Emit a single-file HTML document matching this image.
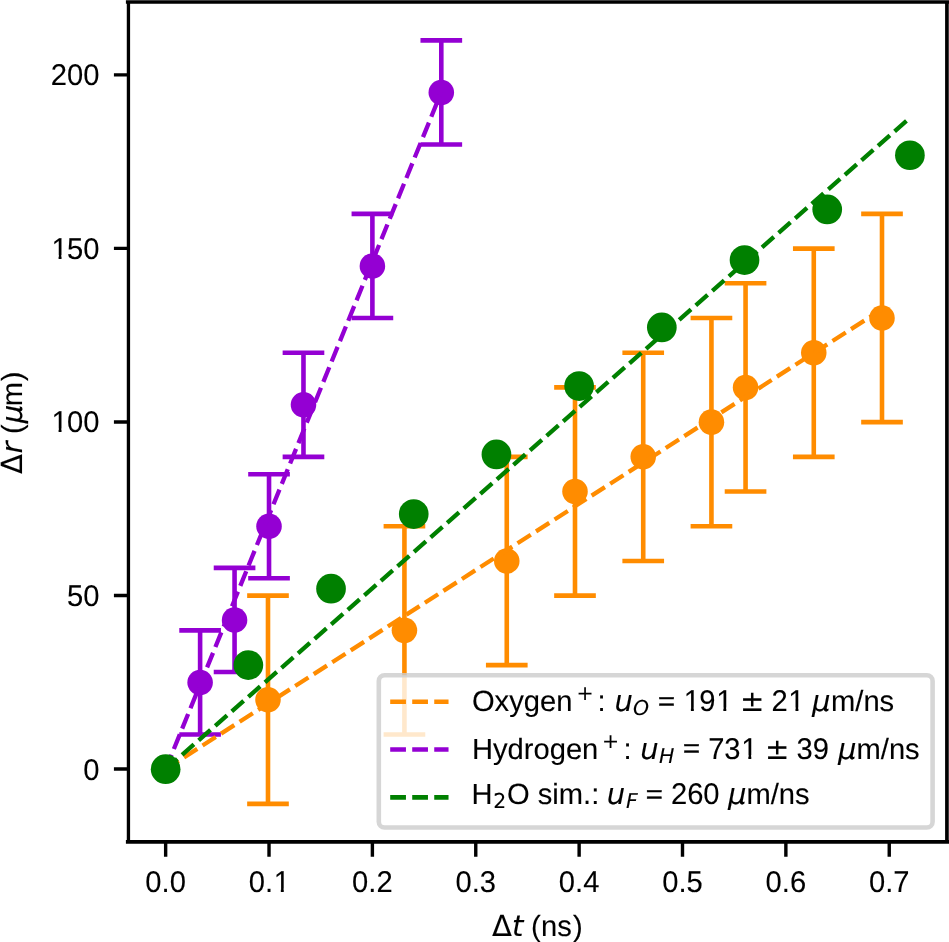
<!DOCTYPE html>
<html lang="en"><head><meta charset="utf-8"><title>Expansion velocity plot</title>
<style>
html,body{margin:0;padding:0;background:#fff;}
body{width:949px;height:942px;overflow:hidden;}
svg{display:block;}
text{font-family:"Liberation Sans",Arial,Helvetica,sans-serif;font-size:29.17px;fill:#000;stroke:#000;stroke-width:0.1px;text-rendering:geometricPrecision;}
.i{font-style:italic;}
.eq{stroke-width:0.5px;}
.s{font-size:20.42px;}
.dv{font-family:"DejaVu Sans","Liberation Sans",sans-serif;}
</style></head><body>
<svg width="949" height="942" viewBox="0 0 949 942">
<rect width="949" height="942" fill="#fff"/>
<defs><clipPath id="k191"><path d="M-2 -27H51.67V-3.7H-2ZM7.75 -4H10.7V1.5H7.75ZM16.62 -4H32.05V1.5H16.62ZM40.2 -4H43.15V1.5H40.2Z"/></clipPath><clipPath id="k21"><path d="M-2 -27H35.45V-3.7H-2ZM0.4 -4H15.82V1.5H0.4ZM23.97 -4H26.92V1.5H23.97Z"/></clipPath><clipPath id="k731"><path d="M-2 -27H51.67V-3.7H-2ZM0.4 -4H15.82V1.5H0.4ZM16.62 -4H32.05V1.5H16.62ZM40.2 -4H43.15V1.5H40.2Z"/></clipPath><clipPath id="k0_1"><path d="M-2 -27H43.55V-3.7H-2ZM0.4 -4H15.82V1.5H0.4ZM16.62 -4H23.93V1.5H16.62ZM32.08 -4H35.03V1.5H32.08Z"/></clipPath><clipPath id="k100"><path d="M-2 -27H51.67V-3.7H-2ZM7.75 -4H10.7V1.5H7.75ZM16.62 -4H32.05V1.5H16.62ZM32.85 -4H48.27V1.5H32.85Z"/></clipPath><clipPath id="k150"><path d="M-2 -27H51.67V-3.7H-2ZM7.75 -4H10.7V1.5H7.75ZM16.62 -4H32.05V1.5H16.62ZM32.85 -4H48.27V1.5H32.85Z"/></clipPath><clipPath id="ax"><rect x="128.4" y="1.9" width="818.4" height="839.9"/></clipPath></defs>
<g clip-path="url(#ax)">
<g stroke="#ff8c00" stroke-width="4.6" fill="none">
<path d="M267.99 803.91V595.67M247.15 803.91h41.67M247.15 595.67h41.67M404.43 734.49V526.25M383.6 734.49h41.67M383.6 526.25h41.67M506.77 665.08V456.84M485.94 665.08h41.67M485.94 456.84h41.67M575 595.67V387.42M554.16 595.67h41.67M554.16 387.42h41.67M643.22 560.96V352.72M622.39 560.96h41.67M622.39 352.72h41.67M711.44 526.25V318.01M690.61 526.25h41.67M690.61 318.01h41.67M745.56 491.54V283.3M724.72 491.54h41.67M724.72 283.3h41.67M813.78 456.84V248.6M792.95 456.84h41.67M792.95 248.6h41.67M882 422.13V213.89M861.17 422.13h41.67M861.17 213.89h41.67"/>
</g>
<g fill="#ff8c00">
<circle cx="267.99" cy="699.79" r="12.77"/>
<circle cx="404.43" cy="630.37" r="12.77"/>
<circle cx="506.77" cy="560.96" r="12.77"/>
<circle cx="575" cy="491.54" r="12.77"/>
<circle cx="643.22" cy="456.84" r="12.77"/>
<circle cx="711.44" cy="422.13" r="12.77"/>
<circle cx="745.56" cy="387.42" r="12.77"/>
<circle cx="813.78" cy="352.72" r="12.77"/>
<circle cx="882" cy="318.01" r="12.77"/>
</g>
<g stroke="#9400d3" stroke-width="4.6" fill="none">
<path d="M200.11 734.49V630.37M179.27 734.49h41.67M179.27 630.37h41.67M234.56 672.02V567.9M213.73 672.02h41.67M213.73 567.9h41.67M269.02 578.31V474.19M248.19 578.31h41.67M248.19 474.19h41.67M303.48 456.84V352.72M282.64 456.84h41.67M282.64 352.72h41.67M372.39 318.01V213.89M351.56 318.01h41.67M351.56 213.89h41.67M441.3 144.47V40.35M420.47 144.47h41.67M420.47 40.35h41.67"/>
</g>
<g fill="#9400d3">
<circle cx="200.11" cy="682.43" r="12.77"/>
<circle cx="234.56" cy="619.96" r="12.77"/>
<circle cx="269.02" cy="526.25" r="12.77"/>
<circle cx="303.48" cy="404.78" r="12.77"/>
<circle cx="372.39" cy="265.95" r="12.77"/>
<circle cx="441.3" cy="92.41" r="12.77"/>
</g>
<line x1="165.65" y1="769.2" x2="882" y2="309.21" stroke="#ff8c00" stroke-width="4.3" stroke-dasharray="15.75 6.27" stroke-dashoffset="0.2"/>
<line x1="165.65" y1="769.2" x2="441.3" y2="92.18" stroke="#9400d3" stroke-width="4.3" stroke-dasharray="15.75 6.27" stroke-dashoffset="0.2"/>
<line x1="165.65" y1="769.2" x2="909.91" y2="117.86" stroke="#008000" stroke-width="4.3" stroke-dasharray="15.75 6.27" stroke-dashoffset="0.2"/>
<g fill="#008000">
<circle cx="165.65" cy="769.2" r="14.85"/>
<circle cx="248.35" cy="665.08" r="14.85"/>
<circle cx="331.04" cy="588.72" r="14.85"/>
<circle cx="413.74" cy="514.1" r="14.85"/>
<circle cx="496.43" cy="454.41" r="14.85"/>
<circle cx="579.13" cy="386.03" r="14.85"/>
<circle cx="661.83" cy="327.38" r="14.85"/>
<circle cx="744.52" cy="260.05" r="14.85"/>
<circle cx="827.22" cy="209.38" r="14.85"/>
<circle cx="909.91" cy="155.23" r="14.85"/>
</g>
</g>
<rect x="378.8" y="675.3" width="553.8" height="152.2" rx="5.8" ry="5.8" fill="#fff" fill-opacity="0.8" stroke="#ccc" stroke-opacity="0.8" stroke-width="4.6"/>
<line x1="390.2" y1="701.7" x2="448.53" y2="701.7" stroke="#ff8c00" stroke-width="4.6" stroke-dasharray="15.75 6.27"/>
<line x1="390.2" y1="749.5" x2="448.53" y2="749.5" stroke="#9400d3" stroke-width="4.6" stroke-dasharray="15.75 6.27"/>
<line x1="390.2" y1="797.4" x2="448.53" y2="797.4" stroke="#008000" stroke-width="4.6" stroke-dasharray="15.75 6.27"/>
<text x="471.9" y="711.2">Oxygen</text>
<text class="s dv" x="576.6" y="700.2">+</text>
<text x="597.5" y="711.2">:</text>
<text class="i dv" x="614.4" y="711.2">u</text>
<text class="i s dv" x="633" y="715.4">O</text>
<text class="eq" transform="translate(658 709.7) scale(1 0.9)">=</text>
<text clip-path="url(#k191)" transform="translate(683.14 711.2) scale(1 1.03)" x="0.6 16.22 33.05">191</text>
<text class="dv" x="740" y="711.2">±</text>
<text clip-path="url(#k21)" transform="translate(771.5 711.2) scale(1 1.03)" x="0 16.82">21</text>
<text class="i dv" x="812" y="711.2">μ</text>
<text x="831" y="711.2">m/ns</text>
<text x="471.9" y="758.8">Hydrogen</text>
<text class="s dv" x="602.1" y="747.8">+</text>
<text x="623.5" y="758.8">:</text>
<text class="i dv" x="640.3" y="758.8">u</text>
<text class="i s dv" x="659" y="763">H</text>
<text class="eq" transform="translate(683 757.3) scale(1 0.9)">=</text>
<text clip-path="url(#k731)" transform="translate(708.14 758.8) scale(1 1.03)" x="0 16.22 33.05">731</text>
<text class="dv" x="765" y="758.8">±</text>
<text transform="translate(796.5 758.8) scale(1 1.03)">39</text>
<text class="i dv" x="838" y="758.8">μ</text>
<text x="856.5" y="758.8">m/ns</text>
<text x="471.6" y="804">H</text>
<text class="s dv" x="493.3" y="807.7">2</text>
<text x="507" y="804">O sim.:</text>
<text class="i dv" x="606.8" y="804">u</text>
<text class="i s dv" x="625.9" y="807.6">F</text>
<text class="eq" transform="translate(645.8 802.5) scale(1 0.9)">=</text>
<text transform="translate(670.94 804) scale(1 1.03)">260</text>
<text class="i dv" x="728" y="804">μ</text>
<text x="746.4" y="804">m/ns</text>
<path fill="#000" d="M126.78 0.4H130.1V843.7H126.78ZM945.1 0.4H948.75V843.7H945.1ZM125.9 0.33H949V3.85H125.9ZM125.9 840.05H949V843.75H125.9Z"/>
<path d="M165.65 841.8v14.83M269.02 841.8v14.83M372.39 841.8v14.83M475.76 841.8v14.83M579.13 841.8v14.83M682.5 841.8v14.83M785.87 841.8v14.83M889.24 841.8v14.83M128.4 769h-14.48M128.4 595.47h-14.48M128.4 421.93h-14.48M128.4 248.4h-14.48M128.4 74.86h-14.48" stroke="#000" stroke-width="3.4" fill="none"/>
<text transform="translate(145.37 892.2) scale(1 1.03)">0.0</text>
<text clip-path="url(#k0_1)" transform="translate(248.74 892.2) scale(1 1.03)" x="0 16.22 24.93">0.1</text>
<text transform="translate(352.11 892.2) scale(1 1.03)">0.2</text>
<text transform="translate(455.48 892.2) scale(1 1.03)">0.3</text>
<text transform="translate(558.85 892.2) scale(1 1.03)">0.4</text>
<text transform="translate(662.22 892.2) scale(1 1.03)">0.5</text>
<text transform="translate(765.59 892.2) scale(1 1.03)">0.6</text>
<text transform="translate(868.96 892.2) scale(1 1.03)">0.7</text>
<text transform="translate(83.28 779.5) scale(1 1.03)">0</text>
<text transform="translate(67.05 605.97) scale(1 1.03)">50</text>
<text clip-path="url(#k100)" transform="translate(50.83 432.43) scale(1 1.03)" x="0.6 16.22 32.45">100</text>
<text clip-path="url(#k150)" transform="translate(50.83 258.9) scale(1 1.03)" x="0.6 16.22 32.45">150</text>
<text transform="translate(50.83 85.36) scale(1 1.03)">200</text>
<text class="dv" x="492" y="935.9">Δ</text>
<text class="i dv" x="511.9" y="935.9">t</text>
<text x="531.1" y="935.9">(</text>
<text x="541.1" y="935.9">ns</text>
<text x="573" y="935.9">)</text>
<g transform="translate(22 474) rotate(-90)">
<text class="dv" x="0" y="0">Δ</text>
<text class="i dv" x="20.4" y="0">r</text>
<text x="40" y="0">(</text>
<text class="i dv" x="50.8" y="0">μ</text>
<text x="67.7" y="0">m</text>
<text x="92.8" y="0">)</text>
</g>
</svg>
</body></html>
